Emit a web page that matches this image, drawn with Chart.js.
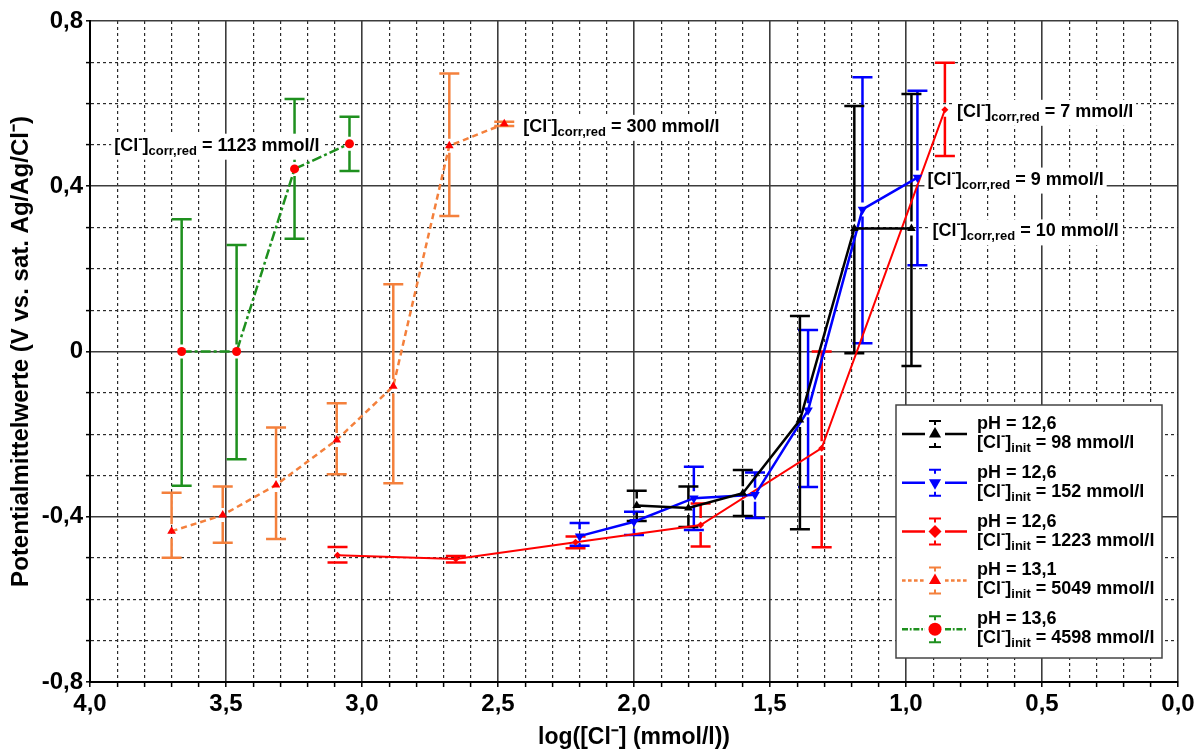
<!DOCTYPE html>
<html lang="de">
<head>
<meta charset="UTF-8" />
<title>Potentialmittelwerte</title>
<script src="https://cdn.jsdelivr.net/npm/chart.js"></script>
<style>
  body { margin: 0; background: #fff; }
  #box { width: 1204px; height: 751px; }
</style>
</head>
<body>
<div id="box"><canvas id="grafico"></canvas></div>

<script>
// legend / annotation values
const phWerte = ['12,6', '12,6', '12,6', '13,1', '13,6']
const initWerte = [98, 152, 1223, 5049, 4598]
const corrRedWerte = [10, 9, 7, 300, 1123]

// x = log([Cl-]), y = potential, o/u = upper and lower end of the error bar
const xSchwarz = [1.99, 1.80, 1.60, 1.39, 1.19, 0.98]
const ySchwarz = [-0.373, -0.379, -0.343, -0.166, 0.298, 0.298]
const oSchwarz = [-0.337, -0.327, -0.287, 0.086, 0.594, 0.623]
const uSchwarz = [-0.410, -0.425, -0.398, -0.430, -0.004, -0.035]

const xBlau = [2.20, 2.00, 1.78, 1.555, 1.36, 1.16, 0.958]
const yBlau = [-0.447, -0.412, -0.355, -0.347, -0.142, 0.344, 0.421]
const oBlau = [-0.415, -0.388, -0.279, -0.293, 0.052, 0.664, 0.631]
const uBlau = [-0.470, -0.444, -0.432, -0.403, -0.328, 0.020, 0.209]

const xRot = [3.09, 2.655, 2.215, 1.755, 1.31, 0.857]
const yRot = [-0.493, -0.502, -0.462, -0.420, -0.234, 0.585]
const oRot = [-0.473, -0.495, -0.448, -0.368, 0.000, 0.699]
const uRot = [-0.511, -0.511, -0.476, -0.472, -0.474, 0.473]

const xOrange = [3.70, 3.512, 3.316, 3.093, 2.885, 2.679, 2.477]
const yOrange = [-0.435, -0.396, -0.323, -0.214, -0.084, 0.498, 0.551]
const oOrange = [-0.342, -0.327, -0.184, -0.125, 0.163, 0.673, 0.556]
const uOrange = [-0.499, -0.463, -0.454, -0.297, -0.319, 0.328, 0.546]

const xGruen = [3.663, 3.461, 3.248, 3.046]
const yGruen = [0.000, 0.000, 0.442, 0.503]
const oGruen = [0.320, 0.258, 0.611, 0.568]
const uGruen = [-0.325, -0.261, 0.273, 0.437]

const FONT = '"Liberation Sans", Arial, sans-serif'

const serien = [
  { x: xSchwarz, y: ySchwarz, o: oSchwarz, u: uSchwarz, farbe: '#000000', punkt: '#000000', stil: 'triangle', rot: 0, r: 5, breite: 2.5, dash: [] },
  { x: xBlau, y: yBlau, o: oBlau, u: uBlau, farbe: '#0000ff', punkt: '#0000ff', stil: 'triangle', rot: 180, r: 5.5, breite: 2.5, dash: [] },
  { x: xRot, y: yRot, o: oRot, u: uRot, farbe: '#ff0000', punkt: '#ff0000', stil: 'rectRot', rot: 0, r: 3.5, breite: 2, dash: [] },
  { x: xOrange, y: yOrange, o: oOrange, u: uOrange, farbe: '#f4803c', punkt: '#ff0000', stil: 'triangle', rot: 0, r: 5, breite: 2.5, dash: [6, 4] },
  { x: xGruen, y: yGruen, o: oGruen, u: uGruen, farbe: '#1e901e', punkt: '#ff0000', stil: 'circle', rot: 0, r: 4.5, breite: 2.5, dash: [10, 3, 3, 3] }
]

// where the corr,red text sits next to the last point of each series
const labelLage = [
  { dx: 21, dy: 3, align: 'left' },
  { dx: 10, dy: 2, align: 'left' },
  { dx: 12, dy: 2, align: 'left' },
  { dx: 19, dy: 3, align: 'left' },
  { dx: -30, dy: 2, align: 'right' }
]

// text with [Cl-] superscript and subscript parts
function richText(ctx, x, y, teile, size, align, measureOnly) {
  const klein = Math.round(size * 0.7)
  let w = 0
  teile.forEach(function (t) {
    ctx.font = 'bold ' + (t[1] ? klein : size) + 'px ' + FONT
    w += ctx.measureText(t[0]).width
  })
  if (measureOnly) return w
  if (align === 'right') x -= w
  ctx.textAlign = 'left'
  ctx.textBaseline = 'middle'
  teile.forEach(function (t) {
    ctx.font = 'bold ' + (t[1] ? klein : size) + 'px ' + FONT
    let dy = 0
    if (t[1] === 'sup') dy = -size * 0.36
    if (t[1] === 'sub') dy = size * 0.3
    ctx.fillText(t[0], x, y + dy)
    x += ctx.measureText(t[0]).width
  })
  return w
}

function clTeile(sub, rest) {
  return [['[Cl', ''], ['-', 'sup'], [']', ''], [sub, 'sub'], [rest, '']]
}

// error bars drawn below the lines
const fehlerBalken = {
  id: 'fehlerBalken',
  beforeDatasetsDraw: function (chart) {
    const ctx = chart.ctx
    const xs = chart.scales.x
    const ys = chart.scales.y
    const gap = 7
    const cap = 10
    for (let i = serien.length - 1; i >= 0; i--) {
      const s = serien[i]
      ctx.save()
      ctx.strokeStyle = s.farbe
      ctx.lineWidth = 2.5
      for (let k = 0; k < s.x.length; k++) {
        const px = xs.getPixelForValue(s.x[k])
        const py = ys.getPixelForValue(s.y[k])
        const oben = ys.getPixelForValue(s.o[k])
        const unten = ys.getPixelForValue(s.u[k])
        ctx.beginPath()
        if (py - oben > gap) { ctx.moveTo(px, oben); ctx.lineTo(px, py - gap) }
        if (unten - py > gap) { ctx.moveTo(px, py + gap); ctx.lineTo(px, unten) }
        ctx.moveTo(px - cap, oben); ctx.lineTo(px + cap, oben)
        ctx.moveTo(px - cap, unten); ctx.lineTo(px + cap, unten)
        ctx.stroke()
      }
      ctx.restore()
    }
  }
}

// [Cl-]corr,red labels with white background
const beschriftung = {
  id: 'beschriftung',
  beforeDatasetsDraw: function (chart) {
    const ctx = chart.ctx
    for (let i = 0; i < serien.length; i++) {
      const s = serien[i]
      const last = s.x.length - 1
      const px = chart.scales.x.getPixelForValue(s.x[last]) + labelLage[i].dx
      const py = chart.scales.y.getPixelForValue(s.y[last]) + labelLage[i].dy
      const teile = clTeile('corr,red', ' = ' + corrRedWerte[i] + ' mmol/l')
      ctx.save()
      const w = richText(ctx, 0, 0, teile, 18, 'left', true)
      const left = labelLage[i].align === 'right' ? px - w : px
      ctx.fillStyle = '#ffffff'
      ctx.fillRect(left - 3, py - 12, w + 6, 26)
      ctx.fillStyle = '#000000'
      richText(ctx, px, py, teile, 18, labelLage[i].align)
      ctx.restore()
    }
  }
}

// legend box with two-line entries
const legende = {
  id: 'legende',
  afterDraw: function (chart) {
    const ctx = chart.ctx
    const a = chart.chartArea
    const bx = a.right - 282
    const by = a.bottom - 277
    ctx.save()
    ctx.fillStyle = '#ffffff'
    ctx.fillRect(bx, by, 266, 253)
    ctx.strokeStyle = '#444444'
    ctx.lineWidth = 1.5
    ctx.strokeRect(bx, by, 266, 253)

    for (let i = 0; i < serien.length; i++) {
      const s = serien[i]
      const yc = by + 29 + 48.8 * i
      const mx = bx + 39
      ctx.strokeStyle = s.farbe
      ctx.lineWidth = 2.5
      ctx.setLineDash(s.dash.map(function (d) { return d * 0.6 }))
      ctx.beginPath()
      ctx.moveTo(bx + 6, yc); ctx.lineTo(bx + 29, yc)
      ctx.moveTo(bx + 49, yc); ctx.lineTo(bx + 71, yc)
      ctx.stroke()
      ctx.setLineDash([])
      ctx.lineWidth = 2
      ctx.beginPath()
      ctx.moveTo(mx - 6, yc - 13); ctx.lineTo(mx + 6, yc - 13)
      ctx.moveTo(mx, yc - 13); ctx.lineTo(mx, yc - 9)
      ctx.moveTo(mx - 6, yc + 13); ctx.lineTo(mx + 6, yc + 13)
      ctx.moveTo(mx, yc + 13); ctx.lineTo(mx, yc + 9)
      ctx.stroke()
      ctx.fillStyle = s.punkt
      ctx.strokeStyle = s.punkt
      Chart.helpers.drawPoint(ctx, { pointStyle: s.stil, rotation: s.rot, radius: s.stil === 'triangle' ? 7 : 6.5, borderWidth: 0 }, mx, yc)

      ctx.fillStyle = '#000000'
      richText(ctx, bx + 81, yc - 10, [['pH = ' + phWerte[i], '']], 18, 'left')
      richText(ctx, bx + 81, yc + 9, clTeile('init', ' = ' + initWerte[i] + ' mmol/l'), 18, 'left')
    }
    ctx.restore()
  }
}

function istVielfaches(v, schritt) {
  const q = v / schritt
  return Math.abs(q - Math.round(q)) < 1e-6
}

function komma(v, nullText) {
  if (Math.abs(v) < 1e-9) return nullText
  return v.toFixed(1).replace('.', ',')
}

const datasets = serien.map(function (s) {
  return {
    data: s.x.map(function (v, k) { return { x: v, y: s.y[k] } }),
    showLine: true,
    borderColor: s.farbe,
    borderWidth: s.breite,
    borderDash: s.dash,
    backgroundColor: s.punkt,
    pointBackgroundColor: s.punkt,
    pointBorderColor: s.punkt,
    pointBorderWidth: 0,
    pointStyle: s.stil,
    pointRotation: s.rot,
    pointRadius: s.r,
    pointHoverRadius: s.r,
    tension: 0
  }
})

function gitter(schritt) {
  return {
    color: function (c) { return c.tick && istVielfaches(c.tick.value, schritt) ? '#3c3c3c' : '#2a2a2a' },
    lineWidth: function (c) { return c.tick && istVielfaches(c.tick.value, schritt) ? 1.6 : 1.2 },
    tickColor: '#000000',
    tickWidth: 1.5
  }
}

new Chart(document.getElementById('grafico'), {
  type: 'scatter',
  data: { datasets: datasets },
  options: {
    responsive: true,
    maintainAspectRatio: false,
    animation: false,
    layout: { padding: { top: 21, right: 26, left: 0, bottom: 0 } },
    plugins: { legend: { display: false }, tooltip: { enabled: false } },
    scales: {
      x: {
        type: 'linear',
        min: 0,
        max: 4,
        reverse: true,
        afterFit: function (s) { s.height = 69 },
        ticks: {
          stepSize: 0.1,
          autoSkip: false,
          maxRotation: 0,
          padding: 3,
          color: '#000000',
          font: { family: FONT, size: 24, weight: 'bold' },
          callback: function (v) { return istVielfaches(v, 0.5) ? komma(v, '0,0') : '' }
        },
        grid: Object.assign(gitter(0.5), { tickLength: 5 }),
        border: {
          display: true,
          color: '#000000',
          width: 2,
          dash: function (c) { return c.tick && !istVielfaches(c.tick.value, 0.5) ? [3, 3] : [] }
        },
        title: {
          display: true,
          text: 'log([Cl\u207B] (mmol/l))',
          color: '#000000',
          font: { family: FONT, size: 23, weight: 'bold' },
          padding: { top: 0, bottom: 0 }
        }
      },
      y: {
        type: 'linear',
        min: -0.8,
        max: 0.8,
        afterFit: function (s) { s.width = 90 },
        ticks: {
          stepSize: 0.1,
          autoSkip: false,
          padding: 3,
          color: '#000000',
          font: { family: FONT, size: 24, weight: 'bold' },
          callback: function (v) { return istVielfaches(v, 0.4) ? komma(v, '0') : '' }
        },
        grid: Object.assign(gitter(0.4), { tickLength: 4 }),
        border: {
          display: true,
          color: '#000000',
          width: 2,
          dash: function (c) { return c.tick && !istVielfaches(c.tick.value, 0.4) ? [3, 3] : [] }
        },
        title: {
          display: true,
          text: 'Potentialmittelwerte (V vs. sat. Ag/Ag/Cl\u207B)',
          color: '#000000',
          font: { family: FONT, size: 24, weight: 'bold' },
          padding: { top: 7, bottom: 0 }
        }
      }
    }
  },
  plugins: [fehlerBalken, beschriftung, legende]
})
</script>
</body>
</html>
